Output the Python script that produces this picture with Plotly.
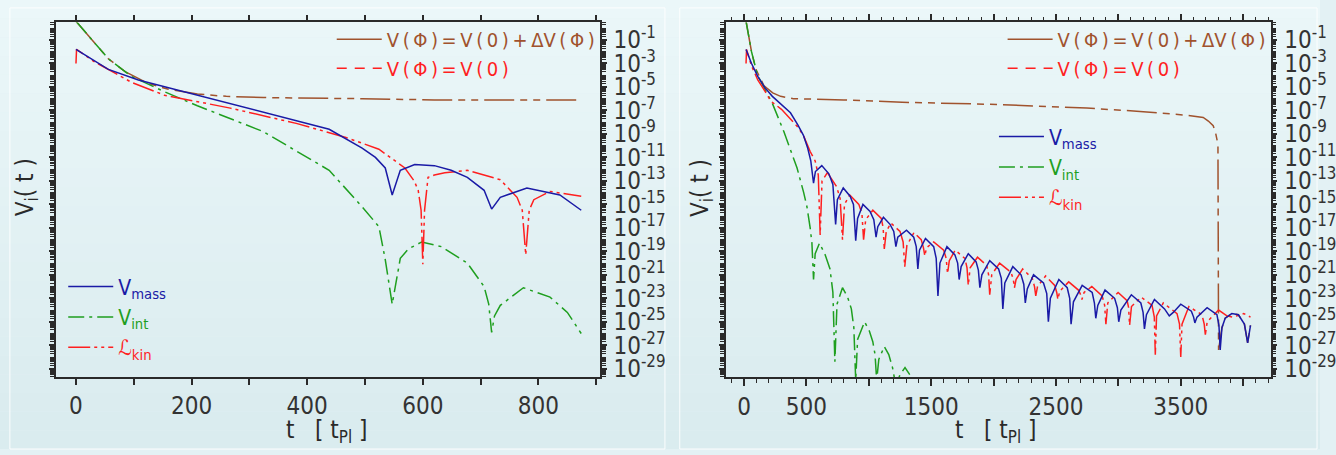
import plotly.graph_objects as go

# ---- data (log10 of the values) ----
# left panel
t_l_blue = [0, 56, 108, 210, 324, 438, 495, 518, 535, 547, 561, 586, 620, 649, 677, 706, 719, 734, 780, 837, 874]
v_l_blue = [-1.8, -3.5, -4.4, -5.7, -7.1, -8.6, -10.2, -11.0, -11.9, -14.2, -12.1, -11.6, -11.7, -12.1, -12.7, -13.8, -15.4, -14.4, -13.6, -14.2, -15.5]

t_l_int = [0, 56, 96, 153, 210, 324, 438, 495, 524, 535, 547, 561, 575, 598, 632, 677, 706, 714, 719, 724, 734, 774, 820, 850, 874]
v_l_int = [0.6, -2.6, -4.1, -5.4, -6.6, -8.8, -12.1, -15.2, -16.9, -19.7, -23.5, -19.6, -18.8, -18.2, -18.6, -20.0, -22.0, -23.5, -25.9, -24.5, -23.6, -22.1, -22.9, -24.2, -26.0]

t_l_kin = [0, 1, 30, 56, 96, 153, 267, 381, 467, 524, 569, 585, 592, 597, 600, 603, 609, 620, 638, 677, 734, 763, 772, 778, 784, 792, 820, 874]
v_l_kin = [-3.0, -1.8, -2.8, -3.5, -4.6, -5.7, -6.8, -8.1, -9.3, -10.3, -11.9, -13.0, -13.8, -15.5, -20.1, -15.5, -12.7, -12.5, -12.3, -12.1, -12.9, -14.4, -15.5, -19.3, -15.5, -14.6, -13.9, -14.3]

t_l_tot = [0, 56, 85, 125, 160, 210, 260, 324, 495, 620, 874]
v_l_tot = [0.6, -2.6, -3.7, -4.7, -5.2, -5.6, -5.8, -5.9, -6.0, -6.1, -6.1]

# right panel
t_r_blue = [16, 60, 110, 170, 227, 300, 372, 430, 475, 510, 535, 557, 572, 623, 680, 712,
            734, 748, 795, 850, 877, 895, 910, 953, 1010, 1040, 1058, 1072, 1117, 1170, 1200,
            1217, 1232, 1302, 1360, 1380, 1393, 1406, 1454, 1520, 1540, 1554, 1570, 1626, 1690,
            1712, 1724, 1740, 1797, 1860, 1878, 1890, 1906, 1969, 2040, 2062, 2074, 2090, 2154,
            2220, 2242, 2254, 2270, 2320, 2400, 2426, 2439, 2455, 2523, 2590, 2610, 2621, 2640,
            2710, 2790, 2808, 2819, 2835, 2893, 2970, 2992, 3003, 3020, 3104, 3180, 3198, 3209,
            3225, 3289, 3370, 3408, 3440, 3500, 3585, 3603, 3613, 3630, 3711, 3790, 3806, 3816,
            3830, 3856, 3909, 3962, 4010, 4036, 4059]
v_r_blue = [-1.8, -3.0, -4.1, -5.1, -5.8, -6.5, -7.2, -8.2, -9.1, -10.2, -11.3, -13.2, -12.2, -11.7, -12.4, -13.3,
            -16.7, -14.6, -13.6, -14.3, -15.0, -18.1, -16.2, -15.0, -15.6, -16.3, -17.8, -16.9, -16.1, -16.7, -17.3,
            -18.6, -17.8, -17.2, -17.8, -18.6, -20.5, -18.9, -17.9, -18.6, -19.6, -22.8, -20.0, -18.6, -19.3,
            -20.0, -21.4, -20.3, -19.2, -19.9, -20.6, -22.1, -21.0, -19.8, -20.5, -21.3, -23.9, -21.7, -20.3,
            -21.0, -21.8, -23.4, -22.2, -21.0, -21.7, -22.6, -25.0, -23.0, -21.4, -22.1, -23.0, -25.2, -23.3,
            -21.9, -22.5, -23.4, -24.7, -23.6, -22.3, -23.0, -23.8, -25.0, -24.0, -22.7, -23.4, -24.2, -25.6,
            -24.4, -23.1, -23.9, -24.5, -24.2, -23.5, -24.1, -24.6, -25.1, -24.6, -23.8, -24.4, -25.3, -27.4,
            -25.5, -24.7, -24.3, -24.4, -25.2, -26.8, -25.3]

t_r_kin = [16, 20, 60, 110, 170, 214, 300, 372, 430, 475, 530, 570, 595, 610, 625, 668, 742, 770,
           789, 805, 847, 920, 945, 958, 975, 1032, 1100, 1115, 1124, 1140, 1177, 1250, 1275, 1288,
           1305, 1362, 1420, 1438, 1449, 1462, 1520, 1600, 1620, 1631, 1645, 1692, 1770, 1787, 1797,
           1812, 1871, 1945, 1960, 1969, 1985, 2048, 2140, 2158, 2167, 2180, 2233, 2310, 2328, 2338,
           2352, 2417, 2490, 2506, 2515, 2530, 2602, 2680, 2698, 2708, 2725, 2787, 2870, 2890, 2900,
           2915, 2998, 3070, 3082, 3090, 3105, 3183, 3270, 3288, 3296, 3306, 3360, 3470, 3490, 3500,
           3510, 3565, 3670, 3688, 3697, 3712, 3803, 3870, 3920, 4005, 4059]
v_r_kin = [-3.0, -1.8, -3.2, -4.4, -5.4, -6.2, -6.9, -7.7, -8.4, -9.1, -10.5, -11.3, -12.5, -17.6, -13.0, -12.3, -13.5, -14.5,
           -18.0, -15.0, -14.2, -15.0, -15.8, -18.0, -16.3, -15.5, -16.2, -17.0, -18.8, -17.3, -16.6, -17.3, -18.2, -20.3,
           -18.5, -17.4, -18.0, -18.7, -19.4, -18.7, -18.2, -18.9, -19.6, -20.9, -19.8, -18.9, -19.6, -20.4, -21.9,
           -20.4, -19.5, -20.2, -21.0, -22.7, -21.0, -20.0, -20.8, -21.4, -22.1, -21.4, -20.5, -21.3, -22.0, -22.8,
           -22.0, -21.1, -21.9, -22.5, -23.1, -22.4, -21.6, -22.3, -22.7, -23.1, -22.5, -22.0, -22.8, -23.6, -25.2,
           -23.4, -22.5, -23.2, -23.8, -25.3, -23.7, -22.9, -23.6, -24.6, -27.8, -24.5, -23.4, -24.3, -25.2, -28.0,
           -25.2, -23.7, -24.4, -25.2, -26.1, -25.0, -24.0, -24.5, -24.6, -24.3, -24.6]

t_r_int = [16, 60, 108, 160, 227, 319, 425, 478, 504, 530, 544, 557, 570, 605, 650, 689, 712, 728,
           745, 789, 830, 860, 880, 895, 910, 966, 1005, 1032, 1050, 1063, 1080, 1124, 1160, 1190,
           1217, 1250, 1290, 1328]
v_r_int = [0.6, -2.0, -4.0, -5.0, -6.4, -8.8, -11.9, -14.0, -15.2, -17.0, -18.3, -21.4, -19.2, -18.3, -19.3, -20.5, -22.5, -28.4,
           -23.5, -22.1, -22.9, -23.9, -25.5, -30.0, -26.5, -25.0, -25.8, -26.7, -27.8, -30.0, -28.2, -27.1, -27.8, -28.9,
           -30.5, -29.5, -28.9, -29.5]

t_r_tot = [16, 60, 95, 160, 230, 293, 396, 800, 1267, 2060, 2747, 3200, 3539, 3680, 3721, 3760, 3777, 3798,
           3803, 3830, 3856, 3909, 3962, 4010, 4036, 4059]
v_r_tot = [0.6, -2.0, -3.5, -4.9, -5.5, -5.8, -6.0, -6.1, -6.3, -6.5, -6.8, -7.1, -7.4, -7.6, -7.9, -8.3, -8.8, -9.9,
           -27.4, -25.5, -24.7, -24.3, -24.4, -25.2, -26.8, -25.3]

x_l_ticks = [0, 100, 200, 300, 400, 500, 600, 700, 800, 900]
x_l_text = ["0", "", "200", "", "400", "", "600", "", "800", ""]
x_r_ticks = [0, 500, 1000, 1500, 2000, 2500, 3000, 3500, 4000]
x_r_text = ["0", "500", "", "1500", "", "2500", "", "3500", ""]
y_tick_exp = [-1, -3, -5, -7, -9, -11, -13, -15, -17, -19, -21, -23, -25, -27, -29]
y_tick_text = [f"10<sup>{e}</sup>" for e in y_tick_exp]

BLUE = "#1a1aa6"
GREEN = "#1f9f1f"
RED = "#ff1f1f"
BROWN = "#a0522d"
INK = "#2a2a2a"
FONT = "Liberation Sans Narrow, DejaVu Sans Condensed, Liberation Sans, sans-serif"
TS = "\u2009"  # thin space, for the spaced-out legend formulas

W, H = 1336, 455


def px_x(p):
    return p / W


def px_y(p):
    return 1 - p / H


def lin(v):
    return [10 ** a for a in v]


fig = go.Figure()

panels = [
    ("x", "y", "legend2", (t_l_blue, v_l_blue), (t_l_int, v_l_int), (t_l_kin, v_l_kin), (t_l_tot, v_l_tot), "legend"),
    ("x2", "y2", "legend4", (t_r_blue, v_r_blue), (t_r_int, v_r_int), (t_r_kin, v_r_kin), (t_r_tot, v_r_tot), "legend3"),
]

top_txt = TS.join(["V", "(", "Φ", ")", "=", "V", "(", "0", ")", "+", "ΔV", "(", "Φ", ")"])
mid_txt = TS.join(["V", "(", "Φ", ")", "=", "V", "(", "0", ")"])

for xa, ya, leg, blue, green, red, tot, topleg in panels:
    fig.add_trace(go.Scatter(x=tot[0], y=lin(tot[1]), mode="lines", xaxis=xa, yaxis=ya,
                             line=dict(color=BROWN, width=1.5, dash="30px,6px,7px,6px,7px,6px"),
                             showlegend=False))
    fig.add_trace(go.Scatter(x=green[0], y=lin(green[1]), mode="lines", xaxis=xa, yaxis=ya,
                             line=dict(color=GREEN, width=1.5, dash="16px,5px,3px,5px"),
                             name=f"<span style='color:{GREEN}'>V<sub>int</sub></span>", legend=leg, legendrank=2))
    fig.add_trace(go.Scatter(x=red[0], y=lin(red[1]), mode="lines", xaxis=xa, yaxis=ya,
                             line=dict(color=RED, width=1.5, dash="22px,4px,3px,4px,3px,4px"),
                             name=f"<span style='color:{RED}'>ℒ<sub>kin</sub></span>", legend=leg, legendrank=3))
    fig.add_trace(go.Scatter(x=blue[0], y=lin(blue[1]), mode="lines", xaxis=xa, yaxis=ya,
                             line=dict(color=BLUE, width=1.5),
                             name=f"<span style='color:{BLUE}'>V<sub>mass</sub></span>", legend=leg, legendrank=1))
    # line-style legend entries
    fig.add_trace(go.Scatter(x=[None], y=[None], mode="lines", xaxis=xa, yaxis=ya,
                             line=dict(color=BROWN, width=1.5),
                             name=f"<span style='color:{BROWN}'>{top_txt}</span>",
                             legend=topleg, legendrank=1))
    fig.add_trace(go.Scatter(x=[None], y=[None], mode="lines", xaxis=xa, yaxis=ya,
                             line=dict(color=RED, width=1.5, dash="10px,8px"),
                             name=f"<span style='color:{RED}'>{mid_txt}</span>",
                             legend=topleg, legendrank=2))

axis_common = dict(showline=True, linecolor=INK, linewidth=1.8, mirror="ticks", ticks="outside",
                   tickcolor=INK, tickwidth=1.5, showgrid=False, zeroline=False,
                   tickfont=dict(family=FONT, size=24, color="#333333"))

ydom = [px_y(382), px_y(22.7)]
yaxis_cfg = dict(axis_common, type="log", range=[-29.7, 0.5], side="right", tickmode="array",
                 tickvals=lin(y_tick_exp), ticktext=y_tick_text, ticklen=5, ticklabelstandoff=2,
                 tickfont=dict(family=FONT, size=24, color="#333333"),
                 minor=dict(ticks="outside", dtick="D1", ticklen=4, tickcolor=INK, tickwidth=1))

leg_common = dict(bgcolor="rgba(0,0,0,0)", yanchor="top", tracegroupgap=0, itemwidth=45)

fig.update_layout(
    width=W, height=H,
    margin=dict(l=0, r=0, t=0, b=0),
    paper_bgcolor="#e3f1f4",
    plot_bgcolor="rgba(0,0,0,0)",
    font=dict(family=FONT, size=20, color=INK),
    xaxis=dict(axis_common, domain=[px_x(57), px_x(607)], range=[-34, 906], anchor="y",
               tickmode="array", tickvals=x_l_ticks, ticktext=x_l_text, ticklen=6),
    yaxis=dict(yaxis_cfg, domain=ydom, anchor="x"),
    xaxis2=dict(axis_common, domain=[px_x(735), px_x(1286)], range=[-143, 4220], anchor="y2",
                tickmode="array", tickvals=x_r_ticks, ticktext=x_r_text, ticklen=7,
                minor=dict(ticks="outside", dtick=100, ticklen=4, tickcolor=INK, tickwidth=1)),
    yaxis2=dict(yaxis_cfg, domain=ydom, anchor="x2"),
    legend=dict(leg_common, x=px_x(607), xanchor="right", y=px_y(20), font=dict(family=FONT, size=20)),
    legend2=dict(leg_common, x=px_x(64), xanchor="left", y=px_y(270), font=dict(family=FONT, size=21)),
    legend3=dict(leg_common, x=px_x(1286), xanchor="right", y=px_y(20), font=dict(family=FONT, size=20)),
    legend4=dict(leg_common, x=px_x(1006), xanchor="left", y=px_y(118), font=dict(family=FONT, size=21)),
)

# soft vertical gradient of the page and the two panel frames
n_bands = 24
for i in range(n_bands):
    f = i / (n_bands - 1)
    r = int(235 - 17 * f)
    g = int(247 - 11 * f)
    b = int(249 - 10 * f)
    fig.add_shape(type="rect", xref="paper", yref="paper", x0=0, x1=1,
                  y0=1 - (i + 1) / n_bands, y1=1 - i / n_bands,
                  fillcolor=f"rgb({r},{g},{b})", line=dict(width=0), layer="below")
for x0, x1 in [(10, 673), (688, 1333)]:
    fig.add_shape(type="rect", xref="paper", yref="paper", x0=px_x(x0), x1=px_x(x1),
                  y0=0, y1=px_y(8), line=dict(color="rgba(255,255,255,0.9)", width=1),
                  fillcolor="rgba(0,0,0,0)", layer="below")

# axis titles (kept inside the page)
for xc in (330, 1008):
    fig.add_annotation(text="t   [ t<sub>Pl</sub> ]", xref="paper", yref="paper", x=px_x(xc), y=0,
                       xanchor="center", yanchor="bottom", showarrow=False,
                       font=dict(family=FONT, size=24, color=INK))
for xc in (27, 710):
    fig.add_annotation(text="V<sub>i</sub>( t )", xref="paper", yref="paper", x=px_x(xc), y=px_y(190),
                       xanchor="center", yanchor="middle", showarrow=False, textangle=-90,
                       font=dict(family=FONT, size=24, color=INK))

clip_js = (
    "document.documentElement.style.overflow='hidden';"
    "document.body.style.margin='0';document.body.style.overflow='hidden';"
    "var gd=document.getElementById('{plot_id}');gd.style.overflow='hidden';"
)
fig.write_html("out.html", config={"displayModeBar": False}, post_script=clip_js)
